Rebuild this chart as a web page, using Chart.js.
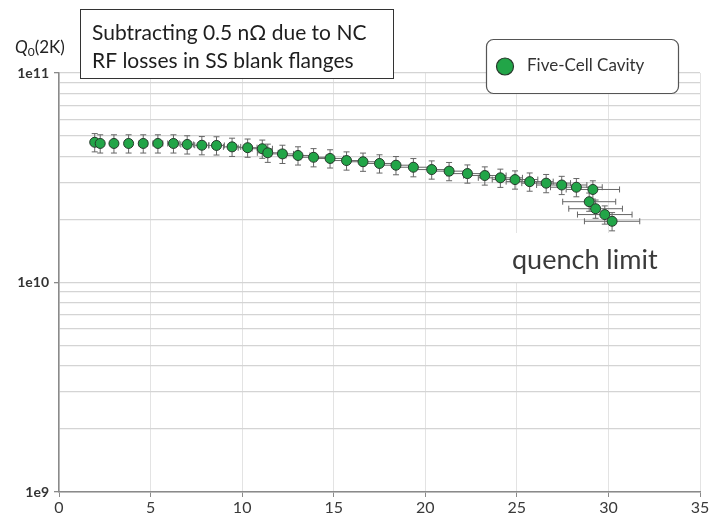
<!DOCTYPE html>
<html lang="en">
<head>
<meta charset="UTF-8">
<title>Q0(2K) vs Eacc - Five-Cell Cavity</title>
<style>
  html, body { margin: 0; padding: 0; background: #fff; }
  #wrap { width: 717px; height: 519px; }
</style>
</head>
<body>
<div id="wrap"><canvas id="qChart" width="717" height="519"></canvas></div>
<script src="https://cdn.jsdelivr.net/npm/chart.js"></script>
<script>
// accelerating gradient (MV/m) and Q0 at 2 K
const eacc = [1.95, 2.25, 3.0, 3.8, 4.6, 5.4, 6.25, 7.0, 7.8, 8.6, 9.45, 10.3, 11.1, 11.4,
              12.2, 13.05, 13.9, 14.8, 15.7, 16.6, 17.5, 18.4, 19.35, 20.35, 21.3, 22.3,
              23.25, 24.1, 24.9, 25.7, 26.6, 27.45, 28.25, 29.15, 28.95, 29.3, 29.8, 30.2];
const q0 = [4.67e10, 4.61e10, 4.61e10, 4.61e10, 4.61e10, 4.61e10, 4.61e10, 4.56e10, 4.52e10,
            4.51e10, 4.44e10, 4.40e10, 4.35e10, 4.16e10, 4.11e10, 4.04e10, 3.96e10, 3.91e10,
            3.82e10, 3.77e10, 3.70e10, 3.63e10, 3.55e10, 3.46e10, 3.40e10, 3.31e10, 3.24e10,
            3.16e10, 3.10e10, 3.03e10, 2.98e10, 2.92e10, 2.85e10, 2.78e10,
            2.43e10, 2.25e10, 2.11e10, 1.96e10];

// relative measurement uncertainty
const eaccErr = 0.05;
const q0Err = 0.10;

const yMajor = [1e9, 1e10, 1e11];
const yMinorSteps = [2, 3, 4, 5, 6, 7, 8, 9];
const xTickStep = 5;

const seriesLabel = 'Five-Cell Cavity';
const noteLines = ['Subtracting 0.5 n\u03A9 due to NC', 'RF losses in SS blank flanges'];
const quenchText = 'quench limit';

const FONT = 'Lato, "Open Sans", "DejaVu Sans", sans-serif';
const GREEN = '#22a548';
const EDGE = '#26382b';

// every grid position on the log axis: 1..9 per decade
const yGrid = [];
for (let d = 0; d < yMajor.length - 1; d++) {
    yGrid.push(yMajor[d]);
    yMinorSteps.forEach(m => yGrid.push(m * yMajor[d]));
}
yGrid.push(yMajor[yMajor.length - 1]);

function roundRect(ctx, x, y, w, h, r) {
    ctx.beginPath();
    ctx.moveTo(x + r, y);
    ctx.lineTo(x + w - r, y);
    ctx.arcTo(x + w, y, x + w, y + r, r);
    ctx.lineTo(x + w, y + h - r);
    ctx.arcTo(x + w, y + h, x + w - r, y + h, r);
    ctx.lineTo(x + r, y + h);
    ctx.arcTo(x, y + h, x, y + h - r, r);
    ctx.lineTo(x, y + r);
    ctx.arcTo(x, y, x + r, y, r);
    ctx.closePath();
}

// x and y error bars, drawn under the markers
const errorBars = {
    id: 'errorBars',
    beforeDatasetsDraw(chart) {
        const { ctx, scales: { x, y } } = chart;
        ctx.save();

        // white label field for the quench note, covers the grid behind it
        ctx.fillStyle = '#fff';
        ctx.fillRect(502, 233, 198, 49);

        ctx.strokeStyle = '#666';
        ctx.lineWidth = 1;
        const cap = 3;
        eacc.forEach((e, i) => {
            const q = q0[i];
            const px = x.getPixelForValue(e);
            const py = y.getPixelForValue(q);
            const xl = x.getPixelForValue(e * (1 - eaccErr));
            const xr = x.getPixelForValue(e * (1 + eaccErr));
            const yt = y.getPixelForValue(q * (1 + q0Err));
            const yb = y.getPixelForValue(q * (1 - q0Err));
            ctx.beginPath();
            ctx.moveTo(xl, py); ctx.lineTo(xr, py);
            ctx.moveTo(xl, py - cap); ctx.lineTo(xl, py + cap);
            ctx.moveTo(xr, py - cap); ctx.lineTo(xr, py + cap);
            ctx.moveTo(px, yt); ctx.lineTo(px, yb);
            ctx.moveTo(px - cap, yt); ctx.lineTo(px + cap, yt);
            ctx.moveTo(px - cap, yb); ctx.lineTo(px + cap, yb);
            ctx.stroke();
        });
        ctx.restore();
    }
};

// axis title, note box, legend and quench label
const decorations = {
    id: 'decorations',
    afterDraw(chart) {
        const ctx = chart.ctx;
        ctx.save();

        // Q0(2K) axis title
        ctx.fillStyle = '#222';
        ctx.textBaseline = 'alphabetic';
        ctx.textAlign = 'left';
        let tx = 15;
        const ty = 53;
        ctx.font = 'italic 17px ' + FONT;
        ctx.fillText('Q', tx, ty);
        tx += ctx.measureText('Q').width;
        ctx.font = '12px ' + FONT;
        ctx.fillText('0', tx, ty + 3);
        tx += ctx.measureText('0').width;
        ctx.font = '17px ' + FONT;
        ctx.fillText('(2K)', tx, ty);

        // note box
        ctx.fillStyle = '#fff';
        ctx.fillRect(80, 9, 313, 69);
        ctx.strokeStyle = '#333';
        ctx.lineWidth = 1;
        ctx.strokeRect(80.5, 9.5, 313, 69);
        ctx.fillStyle = '#1e1e1e';
        ctx.font = '21px ' + FONT;
        ctx.fillText(noteLines[0], 92, 40);
        ctx.fillText(noteLines[1], 92, 68);

        // legend
        roundRect(ctx, 486.5, 39.5, 192, 54, 7);
        ctx.fillStyle = '#fff';
        ctx.fill();
        ctx.strokeStyle = '#555';
        ctx.lineWidth = 1.2;
        ctx.stroke();
        ctx.beginPath();
        ctx.arc(505, 66.5, 8.5, 0, Math.PI * 2);
        ctx.fillStyle = GREEN;
        ctx.fill();
        ctx.strokeStyle = EDGE;
        ctx.lineWidth = 1.2;
        ctx.stroke();
        ctx.fillStyle = '#333';
        ctx.font = '17px ' + FONT;
        ctx.textBaseline = 'middle';
        ctx.fillText(seriesLabel, 527, 66);

        // quench label
        ctx.textBaseline = 'alphabetic';
        ctx.fillStyle = '#3a3a3a';
        ctx.font = '27px ' + FONT;
        ctx.fillText(quenchText, 512, 269);

        ctx.restore();
    }
};

new Chart(document.getElementById('qChart'), {
    type: 'scatter',
    data: {
        datasets: [{
            label: seriesLabel,
            data: eacc.map((e, i) => ({ x: e, y: q0[i] })),
            backgroundColor: GREEN,
            borderColor: EDGE,
            borderWidth: 1,
            pointRadius: 5,
            pointHoverRadius: 5
        }]
    },
    options: {
        responsive: false,
        animation: false,
        layout: { padding: { top: 73, right: 17, bottom: 0, left: 0 } },
        plugins: {
            legend: { display: false },
            tooltip: { enabled: false }
        },
        scales: {
            x: {
                type: 'linear',
                min: 0,
                max: 35,
                ticks: {
                    stepSize: xTickStep,
                    color: '#3a3a3a',
                    font: { family: FONT, size: 16 },
                    padding: 1
                },
                grid: { color: '#e3e3e3', tickLength: 5, tickColor: '#8a8a8a' },
                border: { color: '#8a8a8a', width: 1.5 },
                afterFit(scale) { scale.height = 27; }
            },
            y: {
                type: 'logarithmic',
                min: yMajor[0],
                max: yMajor[yMajor.length - 1],
                afterBuildTicks(scale) {
                    scale.ticks = yGrid.map(v => ({ value: v }));
                },
                ticks: {
                    autoSkip: false,
                    color: '#333',
                    font: { family: FONT, size: 14, weight: 'bold' },
                    padding: 5,
                    callback(v) {
                        return yMajor.includes(v) ? '1e' + Math.round(Math.log10(v)) : '';
                    }
                },
                grid: {
                    color: '#d4d4d4',
                    lineWidth: 1.3,
                    tickLength: 5,
                    tickColor: ctx => (ctx.tick && yMajor.includes(ctx.tick.value)) ? '#8a8a8a' : 'rgba(0,0,0,0)'
                },
                border: { color: '#8a8a8a', width: 1.5 },
                afterFit(scale) { scale.width = 59; }
            }
        }
    },
    plugins: [errorBars, decorations]
});
</script>
</body>
</html>
